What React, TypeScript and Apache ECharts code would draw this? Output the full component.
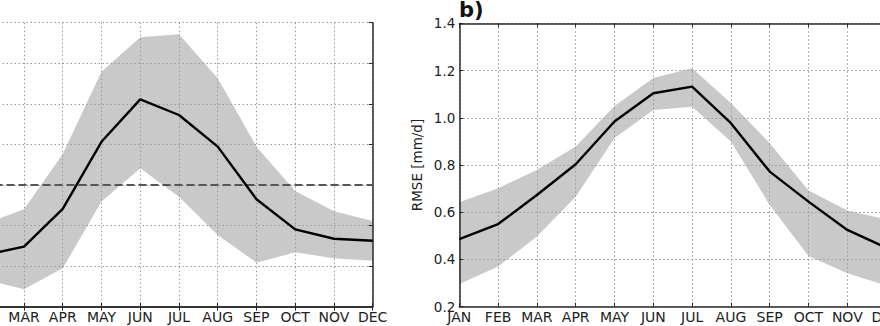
import React, { useEffect, useRef } from "react";
import * as echarts from "echarts";

const months = ["JAN", "FEB", "MAR", "APR", "MAY", "JUN", "JUL", "AUG", "SEP", "OCT", "NOV", "DEC"];

// Panel a (left; its y labels lie outside the picture)
const aMean = [0.245, 0.256, 0.296, 0.482, 0.813, 1.022, 0.945, 0.789, 0.53, 0.381, 0.335, 0.325];
const aUpper = [0.388, 0.409, 0.48, 0.753, 1.158, 1.328, 1.343, 1.126, 0.789, 0.57, 0.471, 0.422];
const aLower = [0.146, 0.133, 0.086, 0.189, 0.518, 0.682, 0.542, 0.353, 0.217, 0.268, 0.239, 0.227];
const aRef = 0.6;

// Panel b (right) RMSE [mm/d]
const bMean = [0.486, 0.55, 0.673, 0.803, 0.984, 1.104, 1.132, 0.977, 0.772, 0.645, 0.525, 0.45];
const bUpper = [0.642, 0.702, 0.779, 0.878, 1.05, 1.168, 1.21, 1.062, 0.892, 0.692, 0.607, 0.57];
const bLower = [0.296, 0.37, 0.497, 0.666, 0.914, 1.033, 1.047, 0.899, 0.631, 0.415, 0.342, 0.29];

const FONT = "DejaVu Sans";
const FRAME = "#2a2a2a";
const GRIDC = "#9a9a9a";
const BAND = "#c9c9c9";

export default function App() {
  const ref = useRef<HTMLDivElement>(null);
  useEffect(() => {
    if (!ref.current) return;
    const chart = echarts.init(ref.current, undefined, { renderer: "svg" });

    const xBottom = (gi: number, firstShown: number) => ({
      type: "category",
      gridIndex: gi,
      data: months,
      boundaryGap: false,
      position: "bottom",
      z: 2,
      axisLine: { show: true, lineStyle: { color: FRAME, width: 1.5 } },
      axisTick: { show: true, inside: true, length: 4, lineStyle: { color: FRAME, width: 1 } },
      axisLabel: {
        show: true,
        color: "#222",
        fontFamily: FONT,
        fontSize: 14,
        margin: 3,
        interval: (i: number) => i >= firstShown,
      },
      splitLine: { show: true, lineStyle: { color: GRIDC, type: [1.5, 2.5], width: 1 } },
    });
    const xTop = (gi: number) => ({
      type: "category",
      gridIndex: gi,
      data: months,
      boundaryGap: false,
      position: "top",
      z: 2,
      axisLine: { show: true, lineStyle: { color: FRAME, width: 1.5 } },
      axisTick: { show: true, inside: true, length: 4, lineStyle: { color: FRAME, width: 1 } },
      axisLabel: { show: false },
      splitLine: { show: false },
    });
    const yLeft = (gi: number, min: number, max: number, showLabels: boolean, extra: any = {}) => ({
      type: "value",
      gridIndex: gi,
      min,
      max,
      interval: 0.2,
      position: "left",
      z: 2,
      axisLine: { show: true, lineStyle: { color: FRAME, width: 1.5 } },
      axisTick: { show: true, inside: true, length: 4, lineStyle: { color: FRAME, width: 1 } },
      axisLabel: {
        show: showLabels,
        color: "#222",
        fontFamily: FONT,
        fontSize: 13.5,
        margin: 4,
        formatter: (v: number) => v.toFixed(1),
      },
      splitLine: { show: true, lineStyle: { color: GRIDC, type: [1.5, 2.5], width: 1 } },
      ...extra,
    });
    const yRight = (gi: number, min: number, max: number) => ({
      type: "value",
      gridIndex: gi,
      min,
      max,
      interval: 0.2,
      position: "right",
      z: 2,
      axisLine: { show: true, lineStyle: { color: FRAME, width: 1.5 } },
      axisTick: { show: true, inside: true, length: 4, lineStyle: { color: FRAME, width: 1 } },
      axisLabel: { show: false },
      splitLine: { show: false },
    });

    const diff = (u: number[], l: number[]) => u.map((v, i) => +(v - l[i]).toFixed(3));

    const bandSeries = (xi: number, yi: number, lower: number[], upper: number[], stack: string) => [
      {
        type: "line",
        xAxisIndex: xi,
        yAxisIndex: yi,
        data: lower,
        stack,
        symbol: "none",
        lineStyle: { width: 0, opacity: 0 },
        z: 1,
      },
      {
        type: "line",
        xAxisIndex: xi,
        yAxisIndex: yi,
        data: diff(upper, lower),
        stack,
        symbol: "none",
        lineStyle: { width: 0, opacity: 0 },
        areaStyle: { color: BAND, opacity: 1 },
        z: 1,
      },
    ];

    chart.setOption({
      animation: false,
      backgroundColor: "#fff",
      textStyle: { fontFamily: FONT },
      grid: [
        { left: -53.5, top: 22.7, width: 426.2, height: 284, containLabel: false, outerBoundsMode: "none" },
        { left: 459.3, top: 23.3, width: 426.8, height: 283.4, containLabel: false, outerBoundsMode: "none" },
      ],
      xAxis: [xBottom(0, 2), xTop(0), xBottom(1, 0), xTop(1)],
      yAxis: [
        yLeft(0, 0, 1.4, false),
        yRight(0, 0, 1.4),
        yLeft(1, 0.2, 1.4, true, {
          name: "RMSE [mm/d]",
          nameLocation: "middle",
          nameGap: 35,
          nameRotate: 90,
          nameTextStyle: { color: "#222", fontFamily: FONT, fontSize: 13.5 },
        }),
        yRight(1, 0.2, 1.4),
      ],
      graphic: [
        {
          type: "text",
          left: 459,
          top: -1,
          style: { text: "b)", fontFamily: FONT, fontWeight: "bold", fontSize: 21, fill: "#111" },
        },
      ],
      series: [
        ...bandSeries(0, 0, aLower, aUpper, "a"),
        {
          type: "line",
          xAxisIndex: 0,
          yAxisIndex: 0,
          data: months.map(() => aRef),
          symbol: "none",
          lineStyle: { color: "#555", width: 2, type: [8, 4] },
          z: 3,
        },
        {
          type: "line",
          xAxisIndex: 0,
          yAxisIndex: 0,
          data: aMean,
          symbol: "none",
          lineStyle: { color: "#000", width: 2.4 },
          z: 4,
        },
        ...bandSeries(2, 2, bLower, bUpper, "b"),
        {
          type: "line",
          xAxisIndex: 2,
          yAxisIndex: 2,
          data: bMean,
          symbol: "none",
          lineStyle: { color: "#000", width: 2.4 },
          z: 4,
        },
      ],
    });
    return () => chart.dispose();
  }, []);

  return (
    <div
      ref={ref}
      style={{ position: "fixed", left: 0, top: 0, width: 880, height: 326, background: "#fff" }}
    />
  );
}
